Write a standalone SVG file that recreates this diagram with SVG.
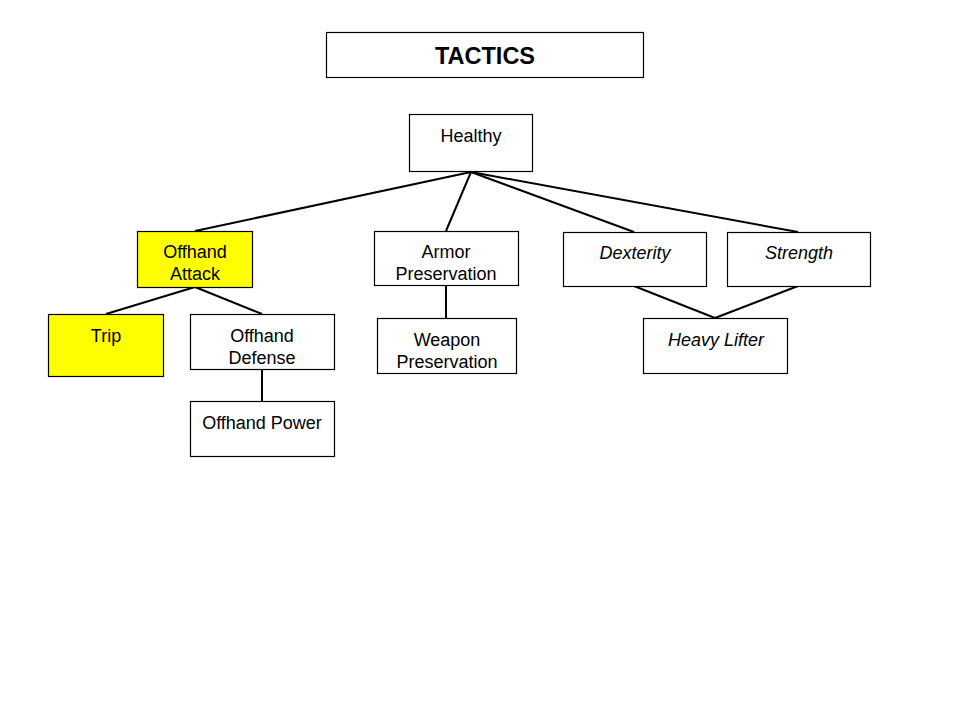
<svg xmlns="http://www.w3.org/2000/svg" width="960" height="720" viewBox="0 0 960 720">
<style>
.box{fill:#ffffff;stroke:#000000;stroke-width:1.2}
.hl{fill:#ffff00}
text{font-family:"Liberation Sans",Arial,sans-serif;font-size:18px;text-anchor:middle;fill:#000000}
.it{font-style:italic}
.title{font-size:23.5px;font-weight:bold}
.conn line{stroke:#000000;stroke-width:2}
</style>
<rect width="960" height="720" fill="#ffffff"/>
<g id="connectors" class="conn">
<line x1="471" y1="172" x2="195" y2="231"/>
<line x1="471" y1="172" x2="446" y2="231"/>
<line x1="471" y1="172" x2="634" y2="232"/>
<line x1="471" y1="172" x2="798" y2="232"/>
<line x1="195" y1="287" x2="106" y2="314"/>
<line x1="195" y1="287" x2="262" y2="314"/>
<line x1="262" y1="369" x2="262" y2="401"/>
<line x1="446" y1="285" x2="446" y2="318"/>
<line x1="634" y1="286" x2="715" y2="318"/>
<line x1="798" y1="286" x2="715" y2="318"/>
</g>
<g id="tactics"><rect class="box" x="326.5" y="32.5" width="317" height="45"/><text class="title" x="485" y="64">TACTICS</text></g>
<g id="healthy"><rect class="box" x="409.5" y="114.5" width="123" height="57"/><text x="471" y="142">Healthy</text></g>
<g id="offhand-attack"><rect class="box hl" x="137.5" y="231.5" width="115" height="56"/><text x="195" y="258">Offhand</text><text x="195" y="280">Attack</text></g>
<g id="armor-preservation"><rect class="box" x="374.5" y="231.5" width="144" height="54"/><text x="446" y="258">Armor</text><text x="446" y="280">Preservation</text></g>
<g id="dexterity"><rect class="box" x="563.5" y="232.5" width="143" height="54"/><text class="it" x="635" y="259">Dexterity</text></g>
<g id="strength"><rect class="box" x="727.5" y="232.5" width="143" height="54"/><text class="it" x="799" y="259">Strength</text></g>
<g id="trip"><rect class="box hl" x="48.5" y="314.5" width="115" height="62"/><text x="106" y="342">Trip</text></g>
<g id="offhand-defense"><rect class="box" x="190.5" y="314.5" width="144" height="55"/><text x="262" y="342">Offhand</text><text x="262" y="364">Defense</text></g>
<g id="offhand-power"><rect class="box" x="190.5" y="401.5" width="144" height="55"/><text x="262" y="429">Offhand Power</text></g>
<g id="weapon-preservation"><rect class="box" x="377.5" y="318.5" width="139" height="55"/><text x="447" y="346">Weapon</text><text x="447" y="368">Preservation</text></g>
<g id="heavy-lifter"><rect class="box" x="643.5" y="318.5" width="144" height="55"/><text class="it" x="716" y="346">Heavy Lifter</text></g>
</svg>
